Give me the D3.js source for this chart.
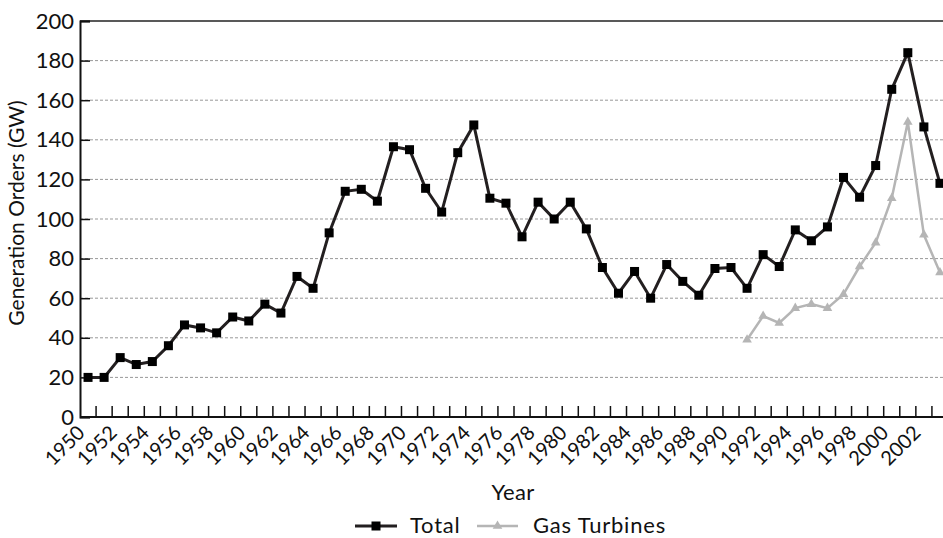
<!DOCTYPE html>
<html>
<head>
<meta charset="utf-8">
<script src="https://cdn.jsdelivr.net/npm/d3@7"></script>
<style>
  body { margin: 0; background: #fff; }
  svg text { font-family: Lato, "Open Sans", sans-serif; fill: #111; }
</style>
</head>
<body>
<div id="chart"></div>
<script>
// years on the category axis
const years = d3.range(1950, 2004);
const labelYears = years.filter(y => y % 2 === 0);
const yTicks = [0, 20, 40, 60, 80, 100, 120, 140, 160, 180, 200];

// total generation orders (GW), 1950-2003
const totalValues = [20, 20, 30, 26.5, 28, 36, 46.5, 45, 42.5, 50.5, 48.5, 57, 52.5, 71, 65,
  93, 114, 115, 109, 136.5, 135, 115.5, 103.5, 133.5, 147.5, 110.5, 108, 91, 108.5, 100, 108.5,
  95, 75.5, 62.5, 73.5, 60, 77, 68.5, 61.5, 75, 75.5, 65, 82, 76, 94.5, 89, 96, 121, 111, 127,
  165.5, 184, 146.5, 118];

// gas turbines, 1991-2003
const gasYears = d3.range(1991, 2004);
const gasValues = [39, 51, 47.5, 55, 57, 55, 62, 76, 88, 110.5, 149, 92, 73];

const W = 943, H = 538;
const M = {TOP: 21, LEFT: 80};
const WIDTH = 868;
const HEIGHT = 396;

const svg = d3.select("#chart").append("svg")
  .attr("width", W).attr("height", H);
const g = svg.append("g").attr("transform", `translate(${M.LEFT},${M.TOP})`);

const x = d3.scaleBand().domain(years).range([0, WIDTH]).padding(0);
const y = d3.scaleLinear().domain([0, 200]).range([HEIGHT, 0]);
const cx = d => x(d) + x.bandwidth() / 2;

// gridlines
g.append("g").selectAll("line").data(yTicks.filter(v => v > 0 && v < 200)).join("line")
  .attr("x1", 0).attr("x2", WIDTH)
  .attr("y1", d => y(d)).attr("y2", d => y(d))
  .attr("stroke", "#999").attr("stroke-width", 1).attr("stroke-dasharray", "3,2");

// top border
g.append("line").attr("x1", 0).attr("x2", WIDTH).attr("y1", y(200)).attr("y2", y(200))
  .attr("stroke", "#222").attr("stroke-width", 1.5);

// y axis
const yAxis = g.append("g").call(d3.axisLeft(y).tickValues(yTicks).tickSize(-10).tickPadding(6));
yAxis.select(".domain").attr("stroke", "#111").attr("stroke-width", 2);
yAxis.selectAll(".tick line").attr("stroke", "#111").attr("stroke-width", 1.5);
yAxis.selectAll("text").attr("font-size", 22).attr("fill", "#111");

// x axis: ticks between categories
const xAxis = g.append("g").attr("transform", `translate(0,${HEIGHT})`);
xAxis.append("line").attr("x1", 0).attr("x2", WIDTH).attr("stroke", "#111").attr("stroke-width", 2);
xAxis.selectAll(".tk").data(years.slice(1)).join("line").attr("class", "tk")
  .attr("x1", d => x(d)).attr("x2", d => x(d)).attr("y1", 0).attr("y2", -11)
  .attr("stroke", "#111").attr("stroke-width", 1.5);
xAxis.selectAll(".lbl").data(labelYears).join("text").attr("class", "lbl")
  .attr("transform", d => `translate(${cx(d) - 2},17) rotate(-45)`)
  .attr("text-anchor", "end")
  .attr("font-size", 20).text(d => d);

// axis titles
svg.append("text").attr("x", 513).attr("y", 500).attr("text-anchor", "middle")
  .attr("font-size", 22).attr("letter-spacing", 0.3).text("Year");
svg.append("text").attr("transform", "translate(24,213) rotate(-90)")
  .attr("text-anchor", "middle").attr("font-size", 21).text("Generation Orders (GW)");

// series
const line = d3.line().x(d => cx(d[0])).y(d => y(d[1]));
const totalData = years.map((yr, i) => [yr, totalValues[i]]);
const gasData = gasYears.map((yr, i) => [yr, gasValues[i]]);

g.append("path").datum(gasData).attr("d", line)
  .attr("fill", "none").attr("stroke", "#b5b5b5").attr("stroke-width", 2.5);
g.selectAll(".tri").data(gasData).join("path").attr("class", "tri")
  .attr("transform", d => `translate(${cx(d[0])},${y(d[1])})`)
  .attr("d", d3.symbol(d3.symbolTriangle, 40)).attr("fill", "#b5b5b5");

g.append("path").datum(totalData).attr("d", line)
  .attr("fill", "none").attr("stroke", "#231f20").attr("stroke-width", 3);
g.selectAll(".sq").data(totalData).join("rect").attr("class", "sq")
  .attr("x", d => cx(d[0]) - 4.5).attr("y", d => y(d[1]) - 4.5)
  .attr("width", 9).attr("height", 9).attr("fill", "#000");

// legend
const legend = svg.append("g").attr("transform", "translate(355,526)");
legend.append("line").attr("x1", 0).attr("x2", 42).attr("stroke", "#231f20").attr("stroke-width", 3);
legend.append("rect").attr("x", 16.5).attr("y", -4.5).attr("width", 9).attr("height", 9).attr("fill", "#000");
legend.append("text").attr("x", 55).attr("y", 7).attr("font-size", 22)
  .attr("letter-spacing", 0.8).text("Total");
legend.append("line").attr("x1", 122).attr("x2", 163).attr("stroke", "#b5b5b5").attr("stroke-width", 2.5);
legend.append("path").attr("transform", "translate(142.5,0)")
  .attr("d", d3.symbol(d3.symbolTriangle, 40)).attr("fill", "#b5b5b5");
legend.append("text").attr("x", 178).attr("y", 7).attr("font-size", 22)
  .attr("letter-spacing", 0.8).text("Gas Turbines");
</script>
</body>
</html>
